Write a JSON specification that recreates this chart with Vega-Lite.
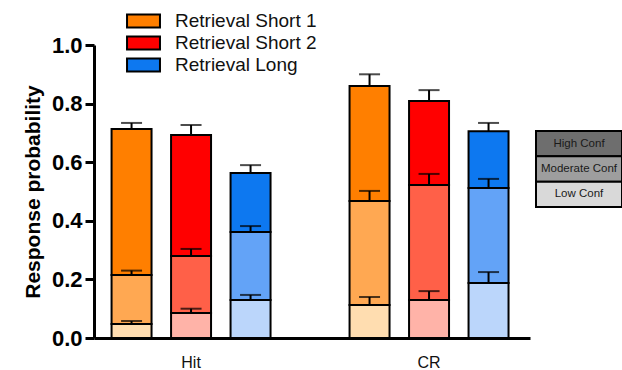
{
  "$schema": "https://vega.github.io/schema/vega-lite/v6.json",
  "padding": {"left": 22, "top": 11, "right": 2, "bottom": 0},
  "config": {
    "view": {"stroke": null},
    "font": "Liberation Sans"
  },
  "spacing": 5,
  "resolve": {"scale": {"color": "independent", "fill": "independent"}, "legend": {"color": "independent"}},
  "hconcat": [
    {
      "width": 436,
      "height": 293,
      "data": {"values": [
        {"group": "Hit", "cond": "Retrieval Short 1", "conf": "High", "base": 0.215, "cum": 0.713, "err": 0.734},
        {"group": "Hit", "cond": "Retrieval Short 2", "conf": "High", "base": 0.280, "cum": 0.693, "err": 0.727},
        {"group": "Hit", "cond": "Retrieval Long", "conf": "High", "base": 0.362, "cum": 0.563, "err": 0.590},
        {"group": "CR", "cond": "Retrieval Short 1", "conf": "High", "base": 0.468, "cum": 0.860, "err": 0.900},
        {"group": "CR", "cond": "Retrieval Short 2", "conf": "High", "base": 0.522, "cum": 0.809, "err": 0.846},
        {"group": "CR", "cond": "Retrieval Long", "conf": "High", "base": 0.512, "cum": 0.706, "err": 0.734},
        {"group": "Hit", "cond": "Retrieval Short 1", "conf": "Moderate", "base": 0.048, "cum": 0.215, "err": 0.230},
        {"group": "Hit", "cond": "Retrieval Short 2", "conf": "Moderate", "base": 0.085, "cum": 0.280, "err": 0.304},
        {"group": "Hit", "cond": "Retrieval Long", "conf": "Moderate", "base": 0.130, "cum": 0.362, "err": 0.382},
        {"group": "CR", "cond": "Retrieval Short 1", "conf": "Moderate", "base": 0.113, "cum": 0.468, "err": 0.502},
        {"group": "CR", "cond": "Retrieval Short 2", "conf": "Moderate", "base": 0.130, "cum": 0.522, "err": 0.560},
        {"group": "CR", "cond": "Retrieval Long", "conf": "Moderate", "base": 0.188, "cum": 0.512, "err": 0.543},
        {"group": "Hit", "cond": "Retrieval Short 1", "conf": "Low", "base": 0, "cum": 0.048, "err": 0.058},
        {"group": "Hit", "cond": "Retrieval Short 2", "conf": "Low", "base": 0, "cum": 0.085, "err": 0.100},
        {"group": "Hit", "cond": "Retrieval Long", "conf": "Low", "base": 0, "cum": 0.130, "err": 0.147},
        {"group": "CR", "cond": "Retrieval Short 1", "conf": "Low", "base": 0, "cum": 0.113, "err": 0.140},
        {"group": "CR", "cond": "Retrieval Short 2", "conf": "Low", "base": 0, "cum": 0.130, "err": 0.160},
        {"group": "CR", "cond": "Retrieval Long", "conf": "Low", "base": 0, "cum": 0.188, "err": 0.225}
      ]},
      "encoding": {
        "x": {
          "field": "group", "type": "nominal", "sort": ["Hit", "CR"],
          "scale": {"paddingInner": 0.25, "paddingOuter": 0.041, "align": 0.4},
          "axis": {"title": null, "labelAngle": 0, "labelFontSize": 16, "labelColor": "#111", "labelPadding": 16, "ticks": false, "domainColor": "black", "domainWidth": 3}
        },
        "xOffset": {
          "field": "cond", "type": "nominal", "sort": ["Retrieval Short 1", "Retrieval Short 2", "Retrieval Long"],
          "scale": {"paddingInner": 0.328, "paddingOuter": 0.164}
        },
        "y": {
          "field": "cum", "type": "quantitative", "stack": null,
          "scale": {"domain": [0, 1], "nice": false},
          "axis": {"title": "Response probability", "titleFontSize": 21, "titleFontWeight": "bold", "titleColor": "black", "titlePadding": 8,
            "values": [0, 0.2, 0.4, 0.6, 0.8, 1.0], "format": ".1f", "labelFontSize": 22, "labelFontWeight": "bold", "labelColor": "black", "labelPadding": 3,
            "tickSize": 9, "tickWidth": 3, "tickColor": "black", "domainColor": "black", "domainWidth": 3, "grid": false}
        }
      },
      "resolve": {"scale": {"color": "independent"}, "legend": {"color": "independent"}},
      "layer": [
        {
          "transform": [{"filter": "datum.conf == 'High'"}],
          "mark": {"type": "bar", "stroke": "black", "strokeWidth": 2},
          "encoding": {
            "y2": {"field": "base"},
            "color": {
              "field": "cond", "type": "nominal",
              "scale": {"domain": ["Retrieval Short 1", "Retrieval Short 2", "Retrieval Long"], "range": ["#FF7F00", "#FF0000", "#0D78F0"]},
              "legend": {"title": null, "orient": "none", "legendX": 39.5, "legendY": -34, "padding": 0,
                "symbolType": "M-1.83,-0.72H1.83V0.72H-1.83Z", "symbolSize": 324, "symbolStrokeColor": "black", "symbolStrokeWidth": 2, "symbolOpacity": 1,
                "labelFontSize": 19, "labelColor": "#111", "labelOffset": 21.5, "rowPadding": 0}
            }
          }
        },
        {
          "transform": [{"filter": "datum.conf == 'Moderate'"}],
          "mark": {"type": "bar", "stroke": "black", "strokeWidth": 2},
          "encoding": {
            "y2": {"field": "base"},
            "color": {
              "field": "cond", "type": "nominal",
              "scale": {"domain": ["Retrieval Short 1", "Retrieval Short 2", "Retrieval Long"], "range": ["#FFA852", "#FF6048", "#63A3F7"]},
              "legend": null
            }
          }
        },
        {
          "transform": [{"filter": "datum.conf == 'Low'"}],
          "mark": {"type": "bar", "stroke": "black", "strokeWidth": 2},
          "encoding": {
            "y2": {"field": "base"},
            "color": {
              "field": "cond", "type": "nominal",
              "scale": {"domain": ["Retrieval Short 1", "Retrieval Short 2", "Retrieval Long"], "range": ["#FFDDB0", "#FFB3A8", "#BBD6FB"]},
              "legend": null
            }
          }
        },
        {
          "mark": {"type": "rule", "color": "black", "strokeWidth": 2},
          "encoding": {
            "y2": {"field": "err"}
          }
        },
        {
          "mark": {"type": "tick", "orient": "horizontal", "size": 21, "thickness": 2, "color": "black"},
          "encoding": {
            "y": {"field": "err", "type": "quantitative"}
          }
        }
      ]
    },
    {
      "spacing": 0,
      "vconcat": [
        {
          "width": 86,
          "height": 85,
          "data": {"values": [{"level": ""}]},
          "mark": {"type": "text"},
          "encoding": {"text": {"field": "level"}}
        },
        {
          "width": 86,
          "height": 76,
          "data": {"values": [
            {"level": "High Conf"},
            {"level": "Moderate Conf"},
            {"level": "Low Conf"}
          ]},
          "encoding": {
            "y": {"field": "level", "type": "nominal", "sort": ["High Conf", "Moderate Conf", "Low Conf"], "axis": null,
              "scale": {"paddingInner": 0, "paddingOuter": 0}}
          },
          "layer": [
            {
              "mark": {"type": "rect", "stroke": "black", "strokeWidth": 2},
              "encoding": {
                "fill": {"field": "level", "type": "nominal",
                  "scale": {"domain": ["High Conf", "Moderate Conf", "Low Conf"], "range": ["#6E6E6E", "#9E9E9E", "#D9D9D9"]},
                  "legend": null}
              }
            },
            {
              "mark": {"type": "text", "fontSize": 11.5, "color": "#1a1a1a"},
              "encoding": {"text": {"field": "level"}}
            }
          ]
        }
      ]
    }
  ]
}
